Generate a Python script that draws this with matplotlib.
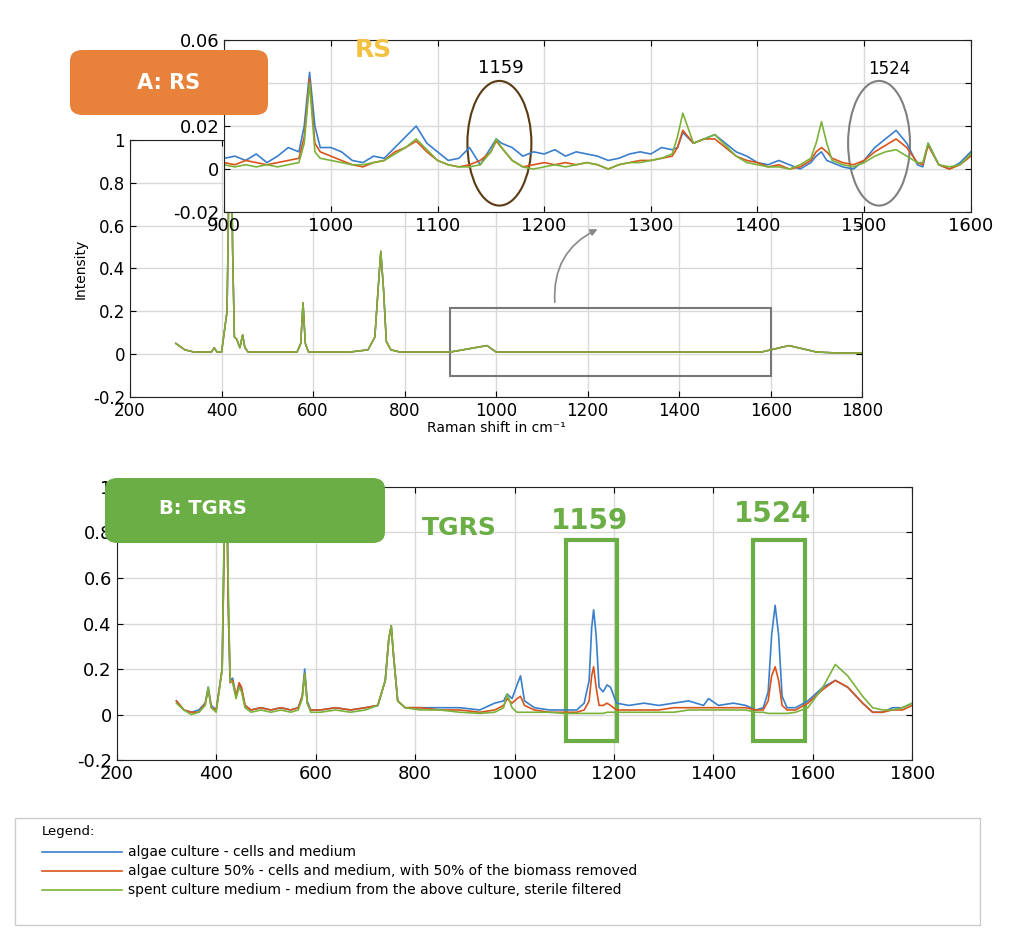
import matplotlib
matplotlib.use("Agg")
import matplotlib.pyplot as plt
from matplotlib.patches import Ellipse, Rectangle, FancyBboxPatch

BLUE = "#3A7FCB"
RED = "#D9541A"
GREEN = "#7BB33A"
TAG_GREEN = "#6AAE45"

# ---- panel A: Raman spectrum (RS), all three series nearly identical
rs_x = [300, 320, 340, 360, 378, 384, 390, 400, 412, 418,
        421, 424, 428, 433, 440, 446, 451, 458, 470, 500,
        540, 565, 573, 578, 583, 590, 620, 680, 720, 735,
        742, 748, 754, 760, 770, 790, 810, 850, 900, 980,
        1000, 1100, 1200, 1300, 1400, 1500, 1580, 1620, 1640, 1660,
        1700, 1750, 1800]
rs_y = [.05, .02, .01, .01, .01, .03, .01, .01, .2, 1.1,
        1.2, .5, .08, .07, .03, .09, .03, .01, .01, .01,
        .01, .01, .05, .24, .05, .01, .01, .01, .02, .08,
        .3, .48, .3, .06, .02, .01, .01, .01, .01, .04,
        .01, .01, .01, .01, .01, .01, .01, .03, .04, .03,
        .01, .005, .005]

# ---- inset: zoom 900-1600
ins_x = [900, 910, 920, 930, 940, 950, 960, 970, 975, 980,
         985, 990, 1000, 1010, 1020, 1030, 1040, 1050, 1060, 1070,
         1080, 1090, 1100, 1110, 1120, 1130, 1140, 1150, 1155, 1160,
         1170, 1180, 1190, 1200, 1210, 1220, 1230, 1240, 1250, 1260,
         1270, 1280, 1290, 1300, 1310, 1320, 1325, 1330, 1340, 1350,
         1360, 1370, 1380, 1390, 1400, 1410, 1420, 1430, 1440, 1450,
         1455, 1460, 1465, 1470, 1480, 1490, 1500, 1510, 1520, 1530,
         1540, 1550, 1555, 1560, 1570, 1580, 1590, 1600]
ins_blue = [.005, .006, .004, .007, .003, .006, .01, .008, .02, .045,
            .02, .01, .01, .008, .004, .003, .006, .005, .01, .015,
            .02, .012, .008, .004, .005, .01, .002, .01, .014, .012,
            .01, .006, .008, .007, .009, .006, .008, .007, .006, .004,
            .005, .007, .008, .007, .01, .009, .01, .017, .012, .014,
            .016, .012, .008, .006, .003, .002, .004, .002, .0, .003,
            .006, .008, .004, .003, .001, .0, .004, .01, .014, .018,
            .012, .002, .001, .012, .002, .0, .003, .008]
ins_red = [.003, .002, .004, .003, .002, .003, .004, .005, .015, .042,
           .012, .008, .006, .004, .002, .001, .003, .004, .008, .01,
           .013, .008, .004, .002, .001, .002, .004, .008, .013, .01,
           .004, .001, .002, .003, .002, .003, .002, .003, .002, .0,
           .002, .003, .004, .004, .005, .006, .01, .018, .012, .014,
           .014, .01, .006, .004, .003, .001, .002, .0, .001, .004,
           .008, .01, .008, .005, .003, .002, .004, .008, .011, .014,
           .01, .003, .002, .011, .002, .0, .002, .006]
ins_green = [.002, .001, .002, .001, .002, .001, .002, .003, .012, .04,
             .008, .005, .004, .003, .002, .002, .003, .004, .007, .01,
             .014, .009, .004, .002, .001, .001, .002, .008, .014, .01,
             .004, .001, .0, .001, .002, .001, .002, .003, .002, .0,
             .002, .003, .003, .004, .005, .007, .015, .026, .012, .014,
             .016, .011, .006, .003, .002, .001, .001, .0, .002, .005,
             .012, .022, .012, .004, .002, .001, .003, .006, .008, .009,
             .006, .003, .003, .012, .002, .001, .002, .007]

# ---- panel B: TGRS
tg_x = [320, 335, 350, 365, 378, 384, 390, 400, 412, 418,
        421, 424, 428, 433, 440, 446, 451, 458, 470, 490,
        510, 530, 550, 565, 573, 578, 583, 590, 610, 640,
        670, 700, 725, 740, 747, 752, 757, 765, 780, 810,
        850, 890, 930, 960, 978, 985, 995, 1005, 1012, 1020,
        1040, 1070, 1100, 1125, 1140, 1150, 1155, 1159, 1164, 1170,
        1178, 1186, 1193, 1205, 1230, 1260, 1290, 1320, 1350, 1380,
        1390, 1410, 1440, 1465, 1485, 1500, 1510, 1517, 1524, 1531,
        1538, 1548, 1565, 1590, 1620, 1645, 1670, 1700, 1720, 1740,
        1760, 1780, 1800]
tg_blue = [.06, .02, .01, .02, .05, .12, .04, .02, .2, 1.05,
           1.1, .5, .15, .16, .08, .13, .11, .04, .02, .03,
           .02, .03, .02, .03, .08, .2, .06, .02, .02, .03,
           .02, .03, .04, .15, .33, .39, .25, .06, .03, .03,
           .03, .03, .02, .05, .06, .09, .07, .13, .17, .06,
           .03, .02, .02, .02, .05, .15, .38, .46, .35, .12,
           .1, .13, .12, .05, .04, .05, .04, .05, .06, .04,
           .07, .04, .05, .04, .02, .03, .1, .35, .48, .35,
           .08, .03, .03, .06, .12, .15, .12, .05, .01, .01,
           .03, .03, .05]
tg_red = [.06, .02, .01, .01, .05, .11, .03, .02, .2, 1.0,
          1.05, .5, .14, .15, .08, .14, .12, .04, .02, .03,
          .02, .03, .02, .03, .08, .18, .05, .02, .02, .03,
          .02, .03, .04, .15, .33, .39, .25, .06, .03, .03,
          .02, .02, .01, .02, .04, .07, .05, .07, .08, .04,
          .02, .01, .01, .01, .02, .06, .17, .21, .12, .04,
          .04, .05, .04, .02, .02, .02, .02, .03, .03, .03,
          .03, .03, .03, .03, .02, .02, .06, .17, .21, .15,
          .04, .02, .02, .05, .11, .15, .12, .05, .01, .01,
          .02, .02, .04]
tg_green = [.05, .02, .0, .01, .04, .12, .03, .01, .2, 1.1,
            1.15, .6, .15, .14, .07, .12, .1, .03, .01, .02,
            .01, .02, .01, .02, .07, .18, .05, .01, .01, .02,
            .01, .02, .04, .15, .33, .39, .25, .06, .03, .02,
            .02, .01, .005, .01, .03, .09, .03, .01, .01, .01,
            .01, .01, .005, .005, .005, .005, .005, .005, .005, .005,
            .005, .01, .01, .01, .01, .01, .01, .01, .02, .02,
            .02, .02, .02, .02, .01, .01, .005, .005, .005, .005,
            .005, .005, .01, .03, .12, .22, .17, .08, .03, .02,
            .02, .03, .05]

legend_labels = ["algae culture - cells and medium",
                 "algae culture 50% - cells and medium, with 50% of the biomass removed",
                 "spent culture medium - medium from the above culture, sterile filtered"]


def style(ax, size=12):
    ax.grid(True, color="#D9D9D9", lw=1)
    ax.set_axisbelow(True)
    ax.tick_params(direction="in", top=True, right=True, labelsize=size, length=4)
    for s in ax.spines.values():
        s.set_color("#222222")


fig = plt.figure(figsize=(10.24, 9.32), dpi=100)

# panel A main
axa = fig.add_axes([0.127, 0.574, 0.715, 0.276])
for c in (BLUE, RED, GREEN):
    axa.plot(rs_x, rs_y, color=c, lw=1.1)
axa.set_xlim(200, 1800)
axa.set_ylim(-0.2, 1)
axa.set_xticks(range(200, 1801, 200))
axa.set_yticks([-0.2, 0, 0.2, 0.4, 0.6, 0.8, 1])
axa.set_yticklabels(["-0.2", "0", "0.2", "0.4", "0.6", "0.8", "1"])
style(axa)
axa.set_xlabel("Raman shift in cm\u207b\u00b9", fontsize=10, labelpad=1)
axa.set_ylabel("Intensity", fontsize=10)
axa.add_patch(Rectangle((900, -0.1), 700, 0.315, fill=False, ec="#777777", lw=1.5))

# inset
axi = fig.add_axes([0.219, 0.7725, 0.729, 0.1845])
axi.plot(ins_x, ins_blue, color=BLUE, lw=1.2)
axi.plot(ins_x, ins_red, color=RED, lw=1.2)
axi.plot(ins_x, ins_green, color=GREEN, lw=1.2)
axi.set_xlim(900, 1600)
axi.set_ylim(-0.02, 0.06)
axi.set_yticks([-0.02, 0, 0.02, 0.04, 0.06])
axi.set_yticklabels(["-0.02", "0", "0.02", "", "0.06"])
style(axi, 13)
axi.add_patch(Ellipse((1158, 0.012), 60, 0.058, fill=False, ec="#5A3A10", lw=1.5, clip_on=False))
axi.add_patch(Ellipse((1514, 0.012), 58, 0.058, fill=False, ec="#808080", lw=1.5, clip_on=False))
axi.text(1159, 0.047, "1159", ha="center", va="center", fontsize=13)
axi.text(1524, 0.0465, "1524", ha="center", va="center", fontsize=12)
axi.text(1040, 0.0555, "RS", ha="center", va="center", fontsize=18, color="#F4C242", weight="bold")

fig.patches.append(FancyBboxPatch((70 / 1024, 1 - 115 / 932), 198 / 1024, 65 / 932,
                                  boxstyle="round,pad=0,rounding_size=0.012",
                                  transform=fig.transFigure, fc="#E8823A", ec="none"))
fig.text(169 / 1024, 1 - 83 / 932, "A: RS", color="white", weight="bold", fontsize=15,
         ha="center", va="center")
axa.annotate("", xy=(600 / 1024, 1 - 228 / 932), xytext=(555 / 1024, 1 - 305 / 932),
             xycoords="figure fraction", textcoords="figure fraction",
             arrowprops=dict(arrowstyle="-|>", color="#888888", lw=1.2,
                             connectionstyle="arc3,rad=-0.35"))

# panel B
axb = fig.add_axes([0.114, 0.1845, 0.777, 0.293])
axb.plot(tg_x, tg_blue, color=BLUE, lw=1.2)
axb.plot(tg_x, tg_red, color=RED, lw=1.2)
axb.plot(tg_x, tg_green, color=GREEN, lw=1.2)
axb.set_xlim(200, 1800)
axb.set_ylim(-0.2, 1)
axb.set_xticks(range(200, 1801, 200))
axb.set_yticks([-0.2, 0, 0.2, 0.4, 0.6, 0.8, 1])
axb.set_yticklabels(["-0.2", "0", "0.2", "0.4", "0.6", "0.8", "1"])
style(axb, 13)
axb.add_patch(Rectangle((1104, -0.115), 101, 0.88, fill=False, ec=TAG_GREEN, lw=3))
axb.add_patch(Rectangle((1480, -0.115), 104, 0.88, fill=False, ec=TAG_GREEN, lw=3))
axb.text(888, 0.82, "TGRS", color=TAG_GREEN, weight="bold", fontsize=18, ha="center", va="center")
axb.text(1150, 0.85, "1159", color=TAG_GREEN, weight="bold", fontsize=20, ha="center", va="center")
axb.text(1519, 0.88, "1524", color=TAG_GREEN, weight="bold", fontsize=20, ha="center", va="center")

fig.patches.append(FancyBboxPatch((105 / 1024, 1 - 543 / 932), 280 / 1024, 65 / 932,
                                  boxstyle="round,pad=0,rounding_size=0.012",
                                  transform=fig.transFigure, fc=TAG_GREEN, ec="none"))
fig.text(203 / 1024, 1 - 508 / 932, "B: TGRS", color="white", weight="bold", fontsize=14,
         ha="center", va="center")

# legend box
fig.patches.append(Rectangle((15 / 1024, 1 - 925 / 932), 965 / 1024, 107 / 932,
                             transform=fig.transFigure, fill=False, ec="#CCCCCC", lw=1))
fig.text(42 / 1024, 1 - 832 / 932, "Legend:", fontsize=9.5, va="center")
for i, (lab, c) in enumerate(zip(legend_labels, (BLUE, RED, GREEN))):
    yy = 1 - (852 + 19 * i) / 932
    fig.add_artist(plt.Line2D([42 / 1024, 122 / 1024], [yy, yy], color=c, lw=1.2,
                              transform=fig.transFigure))
    fig.text(128 / 1024, yy, lab, fontsize=10, va="center")

fig.savefig("out.png", dpi=100)
